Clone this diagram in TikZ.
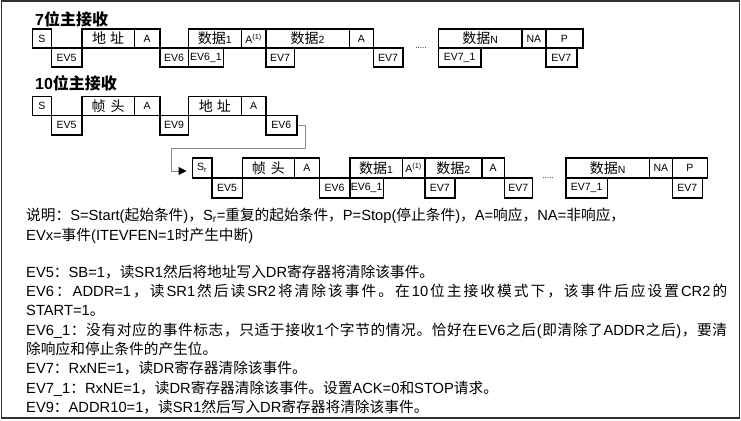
\documentclass[tikz,border=0pt]{standalone}
\usepackage{fontspec}
\setmainfont{Liberation Sans}
\newfontfamily\latin{Liberation Sans}
\newfontfamily\cjk{Noto Sans CJK SC}
\usetikzlibrary{arrows.meta}
\newXeTeXintercharclass\cjkcls
\newcount\cjkn
\newcommand\setcjkrange[2]{\cjkn=#1\relax\loop\XeTeXcharclass\cjkn=\cjkcls\relax\ifnum\cjkn<#2\relax\advance\cjkn by 1\relax\repeat}
\setcjkrange{"3000}{"303F}
\setcjkrange{"4E00}{"9FFF}
\setcjkrange{"FF00}{"FFEF}
\XeTeXinterchartoks 0 \cjkcls = {\hskip0pt plus 1pt\cjk}
\XeTeXinterchartoks 4095 \cjkcls = {\cjk}
\XeTeXinterchartoks \cjkcls 0 = {\hskip0pt plus 1pt\latin}
\XeTeXinterchartoks \cjkcls 4095 = {\latin}
\XeTeXinterchartoks \cjkcls \cjkcls = {\hskip0pt plus 1pt}
\XeTeXinterchartokenstate=1
\newcommand\lab{\fontsize{10.5}{12}\selectfont}
\newcommand\zh{\fontsize{14}{14}\selectfont}
\newcommand\bxx[6]{\node[bx,minimum width=#4pt,minimum height=#5pt] (#1) at (#2,#3) {#6};}
\begin{document}
\begin{tikzpicture}[x=1pt,y=-1pt,
  bx/.style={draw, line width=1.8pt, inner sep=0pt, anchor=north west, font=\lab},
  conn/.style={draw=black!45, line width=0.8pt},
  ttl/.style={anchor=west, inner sep=0pt, font=\bfseries\fontsize{16}{16}\selectfont},
  txt/.style={anchor=base west, inner sep=0pt, font=\fontsize{14.7}{17}\selectfont},
  dotsty/.style={inner sep=0pt, font=\fontsize{8}{8}\selectfont}]
\useasboundingbox (0,0) rectangle (741,420);
\fill[white] (0,0) rectangle (741,420);
\draw[line width=1.3pt, black!80] (1.5,1) rectangle (739.5,418);
% titles
\node[ttl] (ti1) at (35,19) {7位主接收};
\node[ttl] (ti2) at (35,83) {10位主接收};
% row 1
\bxx{s1}{31.5}{28}{19}{19}{S}
\bxx{ev5a}{50.5}{47}{30.5}{19.5}{EV5}
\bxx{ad1}{81}{28}{52.5}{19}{{\zh 地\hspace{4pt}址}}
\bxx{a1}{133.5}{28}{25.5}{19}{A}
\bxx{ev6a}{159}{47}{28.5}{19.5}{EV6}
\bxx{d1a}{187.5}{28}{53}{19}{{\zh 数据}1}
\bxx{ev61a}{187.5}{47}{35}{19.5}{EV6\_1}
\bxx{a1b}{240.5}{28}{24.5}{19}{A\textsuperscript{(1)}}
\bxx{d2a}{265}{28}{83.5}{19}{{\zh 数据}2}
\bxx{ev7a}{265}{47}{28.5}{19.5}{EV7}
\bxx{a1c}{348.5}{28}{24}{19}{A}
\bxx{ev7b}{372.5}{47}{29.5}{19.5}{EV7}
\node[dotsty] (dt1) at (421,48) {.....};
\bxx{dNa}{437.5}{28}{83.5}{19}{{\zh 数据}N}
\bxx{ev71a}{437.5}{47}{42.5}{19.5}{EV7\_1}
\bxx{naa}{521}{28}{24}{19}{NA}
\bxx{pa}{545}{28}{37}{19}{P}
\bxx{ev7c}{545}{47}{31}{19.5}{EV7}
% row 2
\bxx{s2}{31.5}{95.5}{19}{19}{S}
\bxx{ev5b}{50.5}{114.5}{30.5}{19.5}{EV5}
\bxx{hd2}{81}{95.5}{52.5}{19}{{\zh 帧\hspace{5pt}头}}
\bxx{a2}{133.5}{95.5}{25.5}{19}{A}
\bxx{ev9}{159}{114.5}{28.5}{19.5}{EV9}
\bxx{ad2}{187.5}{95.5}{53}{19}{{\zh 地\hspace{4pt}址}}
\bxx{a2b}{240.5}{95.5}{24.5}{19}{A}
\bxx{ev6b}{265}{114.5}{31}{19.5}{EV6}
% row 3
\bxx{sr}{191.5}{157}{19.5}{20}{S\textsubscript{r}}
\bxx{ev5c}{211}{177}{30.5}{20}{EV5}
\bxx{hd3}{241.5}{157}{52}{20}{{\zh 帧\hspace{5pt}头}}
\bxx{a3}{293.5}{157}{25}{20}{A}
\bxx{ev6c}{318.5}{177}{30.5}{20}{EV6}
\bxx{d1c}{349}{157}{52.5}{20}{{\zh 数据}1}
\bxx{ev61c}{349}{177}{33.5}{20}{EV6\_1}
\bxx{a3b}{401.5}{157}{22.5}{20}{A\textsuperscript{(1)}}
\bxx{d2c}{424}{157}{57}{20}{{\zh 数据}2}
\bxx{ev7d}{424}{177}{30}{20}{EV7}
\bxx{a3c}{481}{157}{22.5}{20}{A}
\bxx{ev7e}{503.5}{177}{28}{20}{EV7}
\node[dotsty] (dt3) at (548,178) {.....};
\bxx{dNc}{565}{157}{83.5}{20}{{\zh 数据}N}
\bxx{ev71c}{565}{177}{41.5}{20}{EV7\_1}
\bxx{nac}{648.5}{157}{23}{20}{NA}
\bxx{pc}{671.5}{157}{35}{20}{P}
\bxx{ev7f}{671.5}{177}{30}{20}{EV7}
% connector
\coordinate (k1) at (305,148);
\coordinate (k2) at (171,171);
\draw[conn, -{Triangle[length=8pt,width=8pt,color=black]}, shorten >=5pt]
  (ev6b.east) -| (k1) -| (k2) -- (sr.west |- k2);
% text
\node[txt] (t1) at (26,220) {说明：S=Start(起始条件)，S\textsubscript{r}=重复的起始条件，P=Stop(停止条件)，A=响应，NA=非响应，};
\node[txt] (t2) at (26,240) {EVx=事件(ITEVFEN=1时产生中断)};
\node[txt] (t3) at (26,277) {EV5：SB=1，读SR1然后将地址写入DR寄存器将清除该事件。};
\node[txt] (t4) at (26,296) {\hbox to 701pt{EV6：ADDR=1，读SR1然后读SR2将清除该事件。在10位主接收模式下，该事件后应设置CR2的}};
\node[txt] (t5) at (26,315) {START=1。};
\node[txt] (t6) at (26,335) {\hbox to 701pt{EV6\_1：没有对应的事件标志，只适于接收1个字节的情况。恰好在EV6之后(即清除了ADDR之后)，要清}};
\node[txt] (t7) at (26,354) {除响应和停止条件的产生位。};
\node[txt] (t8) at (26,373) {EV7：RxNE=1，读DR寄存器清除该事件。};
\node[txt] (t9) at (26,393) {EV7\_1：RxNE=1，读DR寄存器清除该事件。设置ACK=0和STOP请求。};
\node[txt] (t10) at (26,412) {EV9：ADDR10=1，读SR1然后写入DR寄存器将清除该事件。};
\end{tikzpicture}
\end{document}
